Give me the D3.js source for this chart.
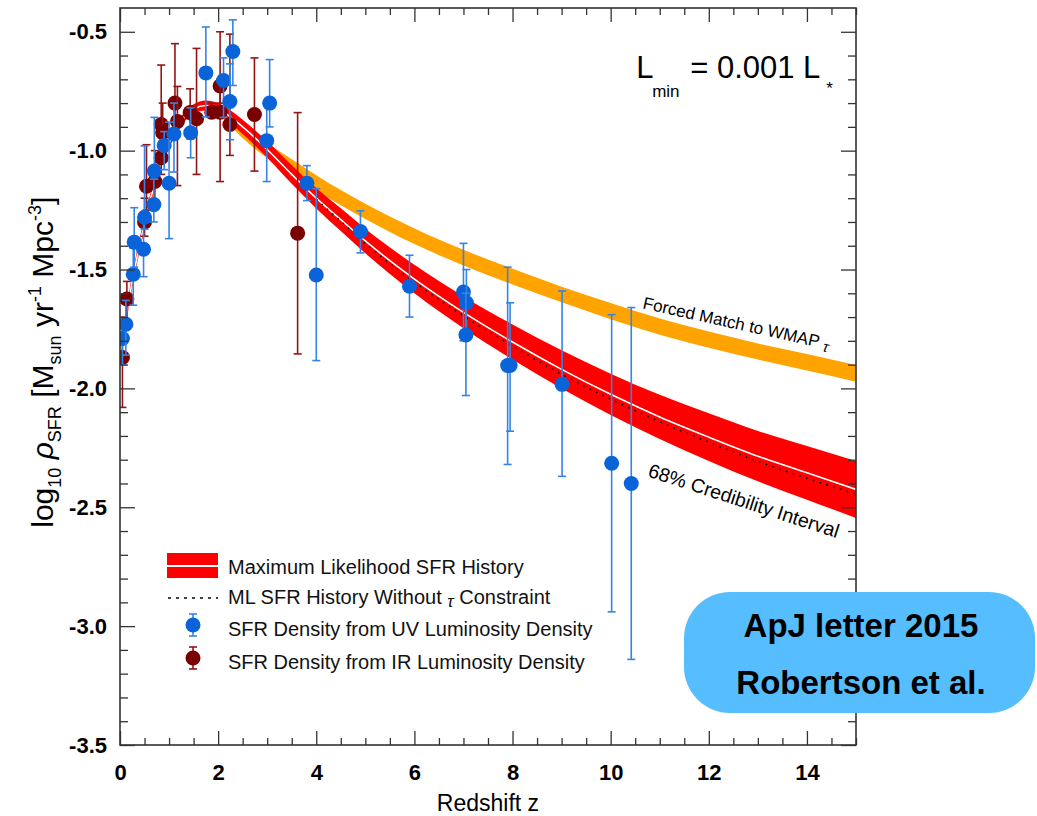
<!DOCTYPE html>
<html>
<head>
<meta charset="utf-8">
<script src="https://cdn.jsdelivr.net/npm/d3@7"></script>
<style>
  body { margin: 0; background: #fff; }
  svg { font-family: "Liberation Sans", Arial, Helvetica, sans-serif; }
</style>
</head>
<body>
<div id="chart"></div>
<script>
// redshift grid the curves were read at
var zGrid = [0, 0.25, 0.5, 0.75, 1, 1.25, 1.5, 1.75, 2, 2.5, 3, 3.5, 4, 4.5, 5, 6, 7, 8, 9, 10, 11, 12, 13, 14, 15];
// maximum likelihood SFR history (white centre line)
var mlValues = [-1.86, -1.55, -1.305, -1.11, -0.97, -0.875, -0.825, -0.81, -0.825, -0.90, -0.995, -1.10, -1.20,
  -1.29, -1.38, -1.54, -1.68, -1.805, -1.92, -2.025, -2.12, -2.205, -2.285, -2.355, -2.425];
// half width of the 68% credibility band
var mlHalfWidth = [0.03, 0.028, 0.025, 0.022, 0.02, 0.02, 0.02, 0.021, 0.024, 0.03, 0.035, 0.039, 0.043,
  0.048, 0.052, 0.06, 0.067, 0.074, 0.08, 0.087, 0.093, 0.1, 0.106, 0.113, 0.12];
// forced match to WMAP tau, and the half width of its band
var wmapValues = [-1.85, -1.545, -1.30, -1.105, -0.965, -0.872, -0.825, -0.812, -0.83, -0.922, -1.0, -1.068, -1.135,
  -1.198, -1.255, -1.36, -1.45, -1.53, -1.605, -1.675, -1.74, -1.795, -1.845, -1.89, -1.937];
var wmapHalfWidth = [0.012, 0.012, 0.012, 0.012, 0.012, 0.012, 0.012, 0.013, 0.016, 0.026, 0.031, 0.032, 0.032,
  0.032, 0.032, 0.033, 0.033, 0.033, 0.033, 0.034, 0.034, 0.034, 0.034, 0.035, 0.035];
// ML without tau constraint (dotted)
var freeZ = [4, 4.5, 5, 6, 7, 8, 9, 10, 11, 12, 13, 14, 15];
var freeValues = [-1.205, -1.297, -1.39, -1.553, -1.695, -1.822, -1.94, -2.045, -2.14, -2.226, -2.307, -2.378, -2.445];

// [z, log rho, error bar low, error bar high]
var uvPoints = [
  [0.05, -1.79, -1.90, -1.72], [0.12, -1.73, -1.86, -1.63], [0.27, -1.52, -1.65, -1.41],
  [0.29, -1.385, -1.49, -1.24], [0.48, -1.415, -1.53, -1.30], [0.50, -1.28, -1.33, -0.98],
  [0.69, -1.227, -1.30, -1.12], [0.70, -1.086, -1.12, -0.86], [0.90, -0.978, -1.08, -0.92],
  [1.00, -1.137, -1.37, -0.88], [1.10, -0.93, -1.09, -0.80], [1.44, -0.925, -1.03, -0.82],
  [1.75, -0.673, -0.858, -0.48], [2.11, -0.705, -0.86, -0.61], [2.24, -0.793, -0.954, -0.635],
  [2.30, -0.583, -0.726, -0.45], [2.99, -0.958, -1.13, -0.80], [3.05, -0.80, -0.90, -0.617],
  [3.81, -1.137, -1.21, -1.063], [4.00, -1.523, -1.883, -1.16], [4.90, -1.34, -1.43, -1.253],
  [5.90, -1.57, -1.70, -1.44], [7.00, -1.595, -1.80, -1.39], [7.06, -1.64, -1.78, -1.50],
  [7.05, -1.775, -2.03, -1.60], [7.90, -1.904, -2.32, -1.49], [7.95, -1.904, -2.18, -1.64],
  [9.01, -1.983, -2.37, -1.59], [10.02, -2.315, -2.94, -1.69], [10.42, -2.40, -3.14, -1.66]
];
var irPoints = [
  [0.05, -1.87, -2.08, -1.70], [0.14, -1.624, -1.72, -1.55], [0.50, -1.30, -1.36, -1.20],
  [0.54, -1.15, -1.25, -0.975], [0.71, -1.13, -1.22, -1.0], [0.84, -1.03, -1.10, -0.93],
  [0.84, -0.89, -0.98, -0.64], [0.87, -0.925, -1.0, -0.80], [1.12, -0.80, -0.92, -0.55],
  [1.17, -0.877, -1.147, -0.73], [1.43, -0.84, -0.95, -0.74], [1.56, -0.866, -1.10, -0.57],
  [1.87, -0.838, -0.86, -0.80], [2.04, -0.728, -0.80, -0.50], [2.04, -0.838, -1.13, -0.70],
  [2.24, -0.89, -1.02, -0.51], [2.74, -0.848, -1.086, -0.61], [3.62, -1.347, -1.855, -0.84]
];

var xMajor = [0, 2, 4, 6, 8, 10, 12, 14];
var yMajor = [-3.5, -3.0, -2.5, -2.0, -1.5, -1.0, -0.5];

var legendLabels = ['Maximum Likelihood SFR History', 'ML SFR History Without ', 'SFR Density from UV Luminosity Density',
  'SFR Density from IR Luminosity Density'];

var colors = {
  band: '#ff0000', wmap: '#ffa300', uv: '#0b63d9', uvBar: '#3584e4', ir: '#7a0000', irBar: '#921414', frame: '#333'
};

var width = 1037, height = 816;
var plot = {left: 120, right: 856, top: 8, bottom: 745};

var x = d3.scaleLinear().domain([0, 15]).range([plot.left, plot.right]);
var y = d3.scaleLinear().domain([-3.5, -0.4]).range([plot.bottom, plot.top]);

var svg = d3.select('#chart').append('svg')
  .attr('width', width).attr('height', height);

svg.append('clipPath').attr('id', 'clip')
  .append('rect').attr('x', plot.left).attr('y', plot.top)
  .attr('width', plot.right - plot.left).attr('height', plot.bottom - plot.top);

var curves = zGrid.map(function(z, i) {
  return {z: z, ml: mlValues[i], hw: mlHalfWidth[i], wmap: wmapValues[i], whw: wmapHalfWidth[i]};
});
var free = freeZ.map(function(z, i) { return {z: z, v: freeValues[i]}; });

var g = svg.append('g').attr('clip-path', 'url(#clip)');

// WMAP forced band
g.append('path').datum(curves)
  .attr('fill', colors.wmap)
  .attr('d', d3.area().curve(d3.curveMonotoneX)
    .x(d => x(d.z)).y0(d => y(d.wmap - d.whw)).y1(d => y(d.wmap + d.whw)));

// credibility band
g.append('path').datum(curves)
  .attr('fill', colors.band)
  .attr('d', d3.area().curve(d3.curveMonotoneX)
    .x(d => x(d.z)).y0(d => y(d.ml - d.hw)).y1(d => y(d.ml + d.hw)));

g.append('path').datum(curves)
  .attr('fill', 'none').attr('stroke', '#fff').attr('stroke-width', 1.6)
  .attr('d', d3.line().curve(d3.curveMonotoneX).x(d => x(d.z)).y(d => y(d.ml)));

g.append('path').datum(free)
  .attr('fill', 'none').attr('stroke', '#000').attr('stroke-width', 1.6)
  .attr('stroke-dasharray', '1.6,5.5')
  .attr('d', d3.line().curve(d3.curveMonotoneX).x(d => x(d.z)).y(d => y(d.v)));

// data points with error bars
function drawPoints(data, fill, barColor) {
  var pts = g.append('g').selectAll('g').data(data).enter().append('g');
  pts.append('line')
    .attr('x1', d => x(d[0])).attr('x2', d => x(d[0]))
    .attr('y1', d => y(d[2])).attr('y2', d => y(d[3]))
    .attr('stroke', barColor).attr('stroke-width', 1.6);
  [2, 3].forEach(function(k) {
    pts.append('line')
      .attr('x1', d => x(d[0]) - 4).attr('x2', d => x(d[0]) + 4)
      .attr('y1', d => y(d[k])).attr('y2', d => y(d[k]))
      .attr('stroke', barColor).attr('stroke-width', 1.6);
  });
  pts.append('circle')
    .attr('cx', d => x(d[0])).attr('cy', d => y(d[1])).attr('r', 7.5)
    .attr('fill', fill);
}
drawPoints(irPoints, colors.ir, colors.irBar);
drawPoints(uvPoints, colors.uv, colors.uvBar);

///////////////////////////////////////////////////////////////////////////
/////////////////// axes ////////////////////////////////////////////////////
///////////////////////////////////////////////////////////////////////////
var xMinor = d3.range(0, 15.01, 0.5).filter(v => xMajor.indexOf(v) < 0);
var yMinor = d3.range(-35, -4, 1).map(v => v / 10).filter(v => yMajor.indexOf(v) < 0);

function axisGroup(axis, tx, ty) {
  var a = svg.append('g').attr('transform', 'translate(' + tx + ',' + ty + ')').call(axis);
  a.select('.domain').remove();
  a.selectAll('line').attr('stroke', colors.frame).attr('stroke-width', 1.3);
  return a;
}
var fmtY = d => d.toFixed(1);

axisGroup(d3.axisBottom(x).tickValues(xMinor).tickSize(-7).tickFormat(''), 0, plot.bottom);
axisGroup(d3.axisTop(x).tickValues(xMinor).tickSize(-7).tickFormat(''), 0, plot.top);
axisGroup(d3.axisTop(x).tickValues(xMajor).tickSize(-14).tickFormat(''), 0, plot.top);
axisGroup(d3.axisLeft(y).tickValues(yMinor).tickSize(-8).tickFormat(''), plot.left, 0);
axisGroup(d3.axisRight(y).tickValues(yMinor).tickSize(-8).tickFormat(''), plot.right, 0);
axisGroup(d3.axisRight(y).tickValues(yMajor).tickSize(-15).tickFormat(''), plot.right, 0);

var xAxis = axisGroup(d3.axisBottom(x).tickValues(xMajor).tickSize(-14).tickPadding(19).tickFormat(d3.format('d')), 0, plot.bottom);
var yAxis = axisGroup(d3.axisLeft(y).tickValues(yMajor).tickSize(-15).tickPadding(13).tickFormat(fmtY), plot.left, 0);
[xAxis, yAxis].forEach(function(a) {
  a.selectAll('text').attr('fill', '#000').style('font-size', '22px').style('font-weight', 'bold');
});

svg.append('rect')
  .attr('x', plot.left).attr('y', plot.top)
  .attr('width', plot.right - plot.left).attr('height', plot.bottom - plot.top)
  .attr('fill', 'none').attr('stroke', colors.frame).attr('stroke-width', 1.6);

// axis titles
svg.append('text')
  .attr('x', x(7.5)).attr('y', 811)
  .attr('text-anchor', 'middle').style('font-size', '23px')
  .text('Redshift z');

var yt = svg.append('text')
  .attr('transform', 'translate(53,' + y(-1.89) + ') rotate(-90)')
  .attr('text-anchor', 'middle').style('font-size', '30px');
yt.append('tspan').text('log');
yt.append('tspan').attr('dy', 8).style('font-size', '18px').text('10');
yt.append('tspan').attr('dy', -8).style('font-style', 'italic').text(' \u03c1');
yt.append('tspan').attr('dy', 8).style('font-size', '18px').text('SFR');
yt.append('tspan').attr('dy', -8).text(' [M');
yt.append('tspan').attr('dy', 8).style('font-size', '18px').text('sun');
yt.append('tspan').attr('dy', -8).text(' yr');
yt.append('tspan').attr('dy', -12).style('font-size', '18px').text('-1');
yt.append('tspan').attr('dy', 12).text(' Mpc');
yt.append('tspan').attr('dy', -12).style('font-size', '18px').text('-3');
yt.append('tspan').attr('dy', 12).text(']');

// L_min annotation
var lm = svg.append('g').attr('transform', 'translate(' + x(10.52) + ',' + y(-0.694) + ')');
lm.append('text').style('font-size', '31px').text('L');
lm.append('text').attr('x', 16).attr('y', 19).style('font-size', '17px').text('min');
lm.append('text').attr('x', 54).style('font-size', '31px').text('= 0.001 L');
lm.append('text').attr('x', 190).attr('y', 16).style('font-size', '17px').text('*');

// curve labels
var fl = svg.append('text')
  .attr('transform', 'translate(' + x(10.64) + ',' + y(-1.663) + ') rotate(12.5)')
  .style('font-size', '17px').text('Forced Match to WMAP ');
fl.append('tspan').attr('dy', 3).style('font-style', 'italic').style('font-size', '15px').text('\u03c4');

svg.append('text')
  .attr('transform', 'translate(' + x(10.74) + ',' + y(-2.37) + ') rotate(18)')
  .style('font-size', '19.5px').text('68% Credibility Interval');

///////////////////////////////////////////////////////////////////////////
/////////////////// legend //////////////////////////////////////////////////
///////////////////////////////////////////////////////////////////////////
var legend = svg.append('g');
legend.append('rect').attr('x', 167).attr('y', 553).attr('width', 51).attr('height', 25).attr('fill', colors.band);
legend.append('line').attr('x1', 167).attr('x2', 218).attr('y1', 566).attr('y2', 566)
  .attr('stroke', '#fff').attr('stroke-width', 1.8);
legend.append('line').attr('x1', 168).attr('x2', 218).attr('y1', 598).attr('y2', 598)
  .attr('stroke', '#000').attr('stroke-width', 1.4).attr('stroke-dasharray', '3,5');

[[625, colors.uv, colors.uvBar], [658, colors.ir, colors.irBar]].forEach(function(m) {
  legend.append('line').attr('x1', 193).attr('x2', 193).attr('y1', m[0] - 11).attr('y2', m[0] + 11)
    .attr('stroke', m[2]).attr('stroke-width', 1.6);
  [-11, 11].forEach(function(o) {
    legend.append('line').attr('x1', 189).attr('x2', 197).attr('y1', m[0] + o).attr('y2', m[0] + o)
      .attr('stroke', m[2]).attr('stroke-width', 1.6);
  });
  legend.append('circle').attr('cx', 193).attr('cy', m[0]).attr('r', 7.5).attr('fill', m[1]);
});

var lt = legend.selectAll('text.leg').data(legendLabels).enter().append('text')
  .attr('class', 'leg')
  .attr('x', 228).attr('y', (d, i) => [574, 604, 636, 669][i])
  .style('font-size', '20px').attr('fill', '#111')
  .text(d => d);
d3.select(lt.nodes()[1]).append('tspan').attr('dy', 3).style('font-style', 'italic').style('font-size', '17px').text('\u03c4');
d3.select(lt.nodes()[1]).append('tspan').attr('dy', -3).text(' Constraint');

// citation badge
var badge = svg.append('g');
badge.append('rect').attr('x', 684).attr('y', 592).attr('width', 351).attr('height', 121)
  .attr('rx', 46).attr('fill', '#56befe');
badge.append('text').attr('x', 861).attr('y', 637).attr('text-anchor', 'middle')
  .style('font-size', '33px').style('font-weight', 'bold').text('ApJ letter 2015');
badge.append('text').attr('x', 861).attr('y', 694).attr('text-anchor', 'middle')
  .style('font-size', '33px').style('font-weight', 'bold').text('Robertson et al.');
</script>
</body>
</html>
